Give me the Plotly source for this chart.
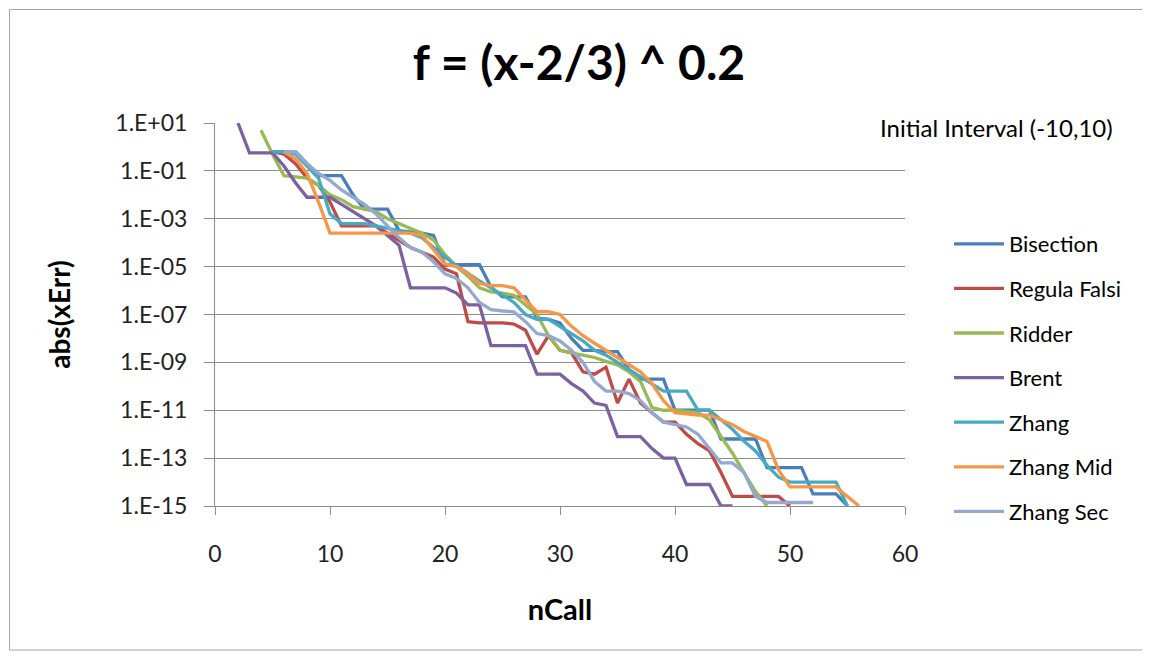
import plotly.graph_objects as go

# ---- data ----
series_names = ["Bisection", "Regula Falsi", "Ridder", "Brent", "Zhang", "Zhang Mid", "Zhang Sec"]
series_colors = ["#4A7EBB", "#BE4B48", "#98B954", "#7D60A0", "#46AAC5", "#F79646", "#93A9CF"]

bisection_n = list(range(5, 56))
bisection_err = [6.3e-1, 6.3e-1, 6.3e-1, 2.0e-1, 6.3e-2, 6.3e-2, 6.3e-2, 1.0e-2, 2.5e-3, 2.5e-3,
                 2.5e-3, 3.2e-4, 2.8e-4, 2.5e-4, 2.0e-4, 1.2e-5, 1.2e-5, 1.2e-5, 1.2e-5, 1.4e-6,
                 5.4e-7, 5.4e-7, 5.4e-7, 7.1e-8, 6.3e-8, 4.5e-8, 1.0e-8, 3.2e-9, 3.2e-9, 2.8e-9,
                 2.8e-9, 5.0e-10, 2.0e-10, 2.0e-10, 2.0e-10, 1.0e-11, 1.0e-11, 1.0e-11, 1.0e-11, 6.3e-13,
                 6.3e-13, 6.3e-13, 6.3e-13, 4.0e-14, 4.0e-14, 4.0e-14, 4.0e-14, 3.2e-15, 3.2e-15, 3.2e-15,
                 1.0e-15]

regula_n = list(range(5, 51))
regula_err = [6.3e-1, 5.0e-1, 2.0e-1, 5.0e-2, 2.5e-2, 5.0e-3, 5.0e-4, 5.0e-4, 5.0e-4, 5.0e-4,
              2.5e-4, 1.3e-4, 6.3e-5, 4.0e-5, 2.5e-5, 7.9e-6, 5.0e-6, 5.0e-8, 4.5e-8, 4.5e-8,
              4.5e-8, 4.0e-8, 2.2e-8, 2.2e-9, 1.3e-8, 3.2e-9, 2.5e-9, 4.0e-10, 3.2e-10, 6.3e-10,
              2.0e-11, 2.0e-10, 2.0e-11, 7.9e-12, 3.2e-12, 3.2e-12, 1.0e-12, 4.0e-13, 2.0e-13, 2.5e-14,
              2.5e-15, 2.5e-15, 2.5e-15, 2.5e-15, 2.5e-15, 1.0e-15]

ridder_n = list(range(4, 49))
ridder_err = [5.0, 5.0e-1, 6.3e-2, 5.6e-2, 5.0e-2, 2.5e-2, 1.0e-2, 6.3e-3, 3.2e-3, 2.5e-3,
              2.0e-3, 1.0e-3, 6.3e-4, 4.0e-4, 2.5e-4, 1.3e-4, 3.2e-5, 1.0e-5, 4.0e-6, 1.3e-6,
              8.9e-7, 7.9e-7, 6.3e-7, 2.5e-7, 1.0e-7, 1.3e-8, 3.2e-9, 2.5e-9, 2.0e-9, 1.6e-9,
              1.1e-9, 7.9e-10, 4.0e-10, 1.6e-10, 1.3e-11, 1.0e-11, 1.0e-11, 8.9e-12, 7.9e-12, 4.0e-12,
              7.9e-13, 1.6e-13, 2.5e-14, 4.0e-15, 1.0e-15]

brent_n = list(range(2, 46))
brent_err = [10.0, 5.6e-1, 5.6e-1, 5.6e-1, 1.6e-1, 3.2e-2, 7.9e-3, 7.9e-3, 7.9e-3, 4.0e-3,
             2.0e-3, 1.0e-3, 5.0e-4, 2.0e-4, 7.9e-5, 1.3e-6, 1.3e-6, 1.3e-6, 1.3e-6, 7.9e-7,
             2.5e-7, 2.5e-7, 5.0e-9, 5.0e-9, 5.0e-9, 5.0e-9, 3.2e-10, 3.2e-10, 3.2e-10, 1.3e-10,
             6.3e-11, 2.0e-11, 1.6e-11, 7.9e-13, 7.9e-13, 7.9e-13, 2.5e-13, 1.0e-13, 1.0e-13, 7.9e-15,
             7.9e-15, 7.9e-15, 1.0e-15, 1.0e-15]

zhang_n = list(range(5, 56))
zhang_err = [6.3e-1, 6.3e-1, 5.0e-1, 1.6e-1, 5.0e-2, 1.6e-3, 6.3e-4, 6.3e-4, 6.3e-4, 5.0e-4,
             4.0e-4, 3.2e-4, 2.5e-4, 1.6e-4, 6.3e-5, 2.5e-5, 1.1e-5, 5.0e-6, 2.5e-6, 1.3e-6,
             6.3e-7, 3.2e-7, 1.0e-7, 6.3e-8, 6.3e-8, 3.2e-8, 1.6e-8, 7.9e-9, 3.2e-9, 2.0e-9,
             1.0e-9, 5.0e-10, 2.5e-10, 1.3e-10, 6.3e-11, 6.3e-11, 6.3e-11, 1.0e-11, 1.0e-11, 4.0e-12,
             1.6e-12, 5.0e-13, 2.0e-13, 5.0e-14, 1.6e-14, 1.0e-14, 1.0e-14, 1.0e-14, 1.0e-14, 1.0e-14,
             1.0e-15]

zhang_mid_n = list(range(6, 57))
zhang_mid_err = [6.3e-1, 3.2e-1, 7.9e-2, 5.0e-3, 2.5e-4, 2.5e-4, 2.5e-4, 2.5e-4, 2.5e-4, 2.5e-4,
                 2.5e-4, 2.5e-4, 2.0e-4, 5.0e-5, 1.3e-5, 1.0e-5, 5.0e-6, 2.0e-6, 1.6e-6, 1.6e-6,
                 1.3e-6, 4.0e-7, 1.3e-7, 1.3e-7, 1.0e-7, 3.2e-8, 1.3e-8, 6.3e-9, 3.2e-9, 1.6e-9,
                 7.9e-10, 4.0e-10, 1.3e-10, 2.5e-11, 7.9e-12, 7.1e-12, 6.3e-12, 6.3e-12, 4.0e-12, 2.5e-12,
                 1.3e-12, 7.9e-13, 5.0e-13, 3.2e-14, 6.3e-15, 6.3e-15, 6.3e-15, 6.3e-15, 6.3e-15, 2.5e-15,
                 1.0e-15]

zhang_sec_n = list(range(6, 53))
zhang_sec_err = [6.3e-1, 6.3e-1, 2.0e-1, 7.9e-2, 4.0e-2, 1.6e-2, 7.9e-3, 4.0e-3, 1.6e-3, 5.0e-4,
                 1.6e-4, 6.3e-5, 4.0e-5, 1.6e-5, 5.0e-6, 3.2e-6, 1.3e-6, 3.2e-7, 1.6e-7, 1.4e-7,
                 1.3e-7, 5.0e-8, 1.6e-8, 1.3e-8, 7.9e-9, 3.2e-9, 1.0e-9, 1.6e-10, 6.3e-11, 6.3e-11,
                 5.0e-11, 2.5e-11, 7.9e-12, 3.2e-12, 2.5e-12, 2.0e-12, 1.0e-12, 2.5e-13, 6.3e-14, 6.3e-14,
                 2.5e-14, 2.5e-15, 1.4e-15, 1.4e-15, 1.4e-15, 1.4e-15, 1.4e-15]

x_tick_vals = [0, 10, 20, 30, 40, 50, 60]
y_tick_vals = [1e1, 1e-1, 1e-3, 1e-5, 1e-7, 1e-9, 1e-11, 1e-13, 1e-15]
y_tick_text = ["1.E+01", "1.E-01", "1.E-03", "1.E-05", "1.E-07", "1.E-09", "1.E-11", "1.E-13", "1.E-15"]

title_text = "f = (x-2/3) ^ 0.2"
x_title = "nCall"
y_title = "abs(xErr)"
note_text = "Initial Interval (-10,10)"

all_n = [bisection_n, regula_n, ridder_n, brent_n, zhang_n, zhang_mid_n, zhang_sec_n]
all_err = [bisection_err, regula_err, ridder_err, brent_err, zhang_err, zhang_mid_err, zhang_sec_err]

FONT = "Lato, 'Open Sans', Arial, sans-serif"

# page has an 8px body margin; the figure is sized so the screenshot lines up
W, H = 1142, 650
OFF = 8
PL, PR, PT, PB = 215, 905, 123, 506  # plot area in screenshot pixels


def px_x(p):
    return (p - PL) / (PR - PL)


def px_y(p):
    return (PB - p) / (PB - PT)


fig = go.Figure()
for i, (name, color, xs, ys) in enumerate(zip(series_names, series_colors, all_n, all_err)):
    fig.add_trace(go.Scatter(
        x=xs, y=ys, mode="lines", name=name, legendgroup=f"g{i}",
        line=dict(color=color, width=3.3),
    ))

grid_color = "#8C8C8C"
fig.update_layout(
    width=W, height=H,
    paper_bgcolor="white", plot_bgcolor="white",
    margin=dict(l=PL - OFF, r=W - (PR - OFF), t=PT - OFF, b=H - (PB - OFF)),
    title=dict(text=f"<b>{title_text}</b>", x=0.5, xanchor="center", xref="container",
               y=1 - (63 - OFF) / H, yanchor="middle", yref="container",
               font=dict(family=FONT, size=48, color="black")),
    font=dict(family=FONT, color="black"),
    showlegend=True,
    legend=dict(x=px_x(949), xanchor="left", y=px_y(223), yanchor="top",
                font=dict(family=FONT, size=22, color="black"),
                tracegroupgap=13, traceorder="grouped", itemwidth=50,
                bgcolor="rgba(0,0,0,0)"),
    xaxis=dict(range=[0, 60], tickvals=x_tick_vals, showgrid=False, zeroline=False,
               showline=True, linecolor=grid_color, linewidth=1,
               ticks="outside", ticklen=8, tickcolor=grid_color, ticklabelstandoff=19,
               tickfont=dict(family=FONT, size=23, color="#222"),
               title=dict(text=f"<b>{x_title}</b>", font=dict(family=FONT, size=29, color="black"),
                          standoff=34)),
    yaxis=dict(type="log", range=[-15, 1], tickvals=y_tick_vals, ticktext=y_tick_text,
               showgrid=True, gridcolor=grid_color, gridwidth=1, zeroline=False,
               showline=True, linecolor=grid_color, linewidth=1,
               ticks="outside", ticklen=10, tickcolor=grid_color, ticklabelstandoff=12,
               tickfont=dict(family=FONT, size=23, color="#222"),
               title=dict(text=f"<b>{y_title}</b>", font=dict(family=FONT, size=28, color="black"),
                          standoff=36)),
)

# outer chart border (kept inside the figure area)
fig.add_shape(type="rect", xref="paper", yref="paper",
              x0=px_x(9.5), x1=px_x(1143), y0=px_y(650), y1=px_y(9.5),
              line=dict(color="#A6A6A6", width=1), fillcolor="rgba(0,0,0,0)", layer="below")

fig.add_annotation(text=note_text, xref="paper", yref="paper",
                   x=px_x(878), y=px_y(127), xanchor="left", yanchor="middle",
                   showarrow=False, font=dict(family=FONT, size=24, color="black"))

fig.write_html("out.html")
